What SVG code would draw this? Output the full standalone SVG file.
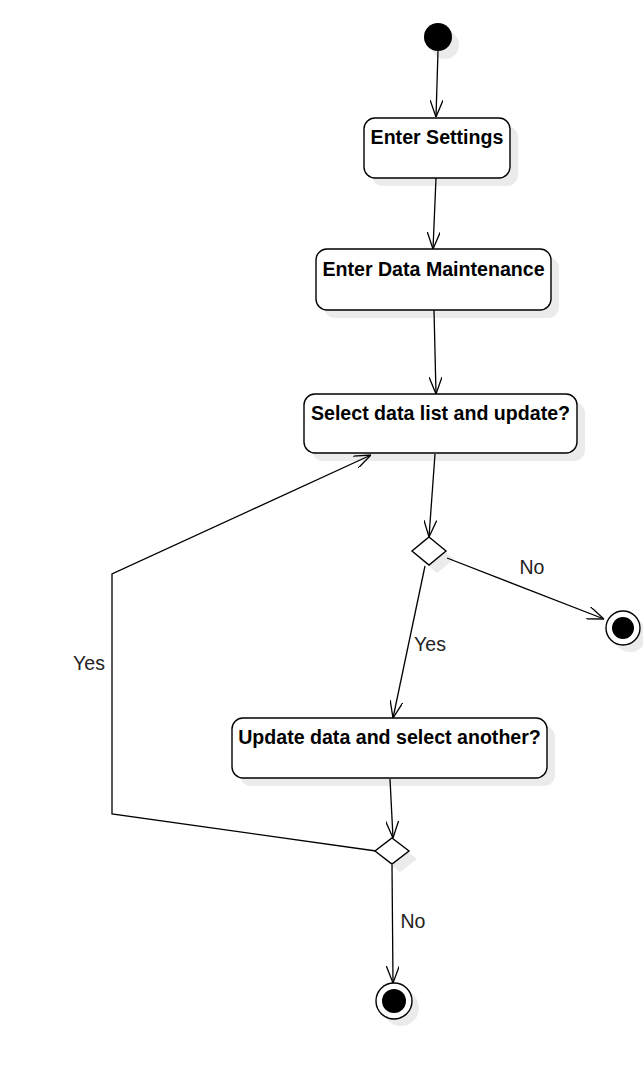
<svg xmlns="http://www.w3.org/2000/svg" width="643" height="1072" viewBox="0 0 643 1072">
<defs>
<style>
.box{fill:#fff;stroke:#000;stroke-width:1.4}
.sh{fill:#ebebeb;stroke:none}
.t{font-family:"Liberation Sans",Arial,sans-serif;font-weight:bold;font-size:19.6px;fill:#000;text-anchor:middle}
.l{font-family:"Liberation Sans",Arial,sans-serif;font-size:19.5px;fill:#222;text-anchor:middle}
.c{fill:none;stroke:#000;stroke-width:1.3}
</style>
<marker id="a" viewBox="0 0 17 13" refX="17" refY="6.5" markerWidth="17" markerHeight="13" markerUnits="userSpaceOnUse" orient="auto">
<path d="M0,0 L17,6.5 L0,13" fill="none" stroke="#000" stroke-width="1.3"/>
</marker>
</defs>
<rect width="643" height="1072" fill="#fff"/>
<g id="start">
<circle class="sh" cx="445" cy="45" r="14"/>
<circle cx="438" cy="37" r="14" fill="#000"/>
</g>
<g id="enter-settings">
<rect class="sh" x="372" y="126" width="146" height="60" rx="11"/>
<rect class="box" x="364" y="118" width="146" height="60" rx="11"/>
<text class="t" x="437" y="144">Enter Settings</text>
</g>
<g id="enter-data-maintenance">
<rect class="sh" x="324" y="257" width="235" height="61" rx="11"/>
<rect class="box" x="316" y="249" width="235" height="61" rx="11"/>
<text class="t" x="433.5" y="276">Enter Data Maintenance</text>
</g>
<g id="select-data-list">
<rect class="sh" x="312" y="402" width="273" height="59" rx="11"/>
<rect class="box" x="304" y="394" width="273" height="59" rx="11"/>
<text class="t" x="440.5" y="420">Select data list and update?</text>
</g>
<g id="decision1">
<path class="sh" d="M437,545 L454,559 L437,573 L420,559 Z"/>
<path class="box" d="M429,537 L446,551 L429,565 L412,551 Z"/>
</g>
<g id="end1">
<circle class="sh" cx="630" cy="635" r="17"/>
<circle cx="623" cy="628" r="17" fill="#fff" stroke="#000" stroke-width="1.4"/>
<circle cx="623" cy="628" r="11" fill="#000"/>
</g>
<g id="update-data">
<rect class="sh" x="240" y="726" width="315" height="60" rx="11"/>
<rect class="box" x="232" y="718" width="315" height="60" rx="11"/>
<text class="t" x="389.5" y="744">Update data and select another?</text>
</g>
<g id="decision2">
<path class="sh" d="M400,846 L417,859 L400,872 L383,859 Z"/>
<path class="box" d="M392,838 L409,851 L392,864 L375,851 Z"/>
</g>
<g id="end2">
<circle class="sh" cx="401" cy="1008" r="18"/>
<circle cx="394" cy="1001" r="18" fill="#fff" stroke="#000" stroke-width="1.4"/>
<circle cx="394" cy="1001" r="12" fill="#000"/>
</g>
<g id="connectors">
<path class="c" d="M438,51 L436,117" marker-end="url(#a)"/>
<path class="c" d="M436,178 L433,249" marker-end="url(#a)"/>
<path class="c" d="M434,310 L436,394" marker-end="url(#a)"/>
<path class="c" d="M435,454 L429,537" marker-end="url(#a)"/>
<path class="c" d="M447,558 L604,619" marker-end="url(#a)"/>
<path class="c" d="M425,566 L393,718" marker-end="url(#a)"/>
<path class="c" d="M390,779 L393,838" marker-end="url(#a)"/>
<path class="c" d="M376,851 L112,814 L112,574 L371,455" marker-end="url(#a)"/>
<path class="c" d="M392,865 L393,983" marker-end="url(#a)"/>
<text class="l" x="532" y="574">No</text>
<text class="l" x="430" y="651">Yes</text>
<text class="l" x="89" y="670">Yes</text>
<text class="l" x="413" y="928">No</text>
</g>
</svg>
